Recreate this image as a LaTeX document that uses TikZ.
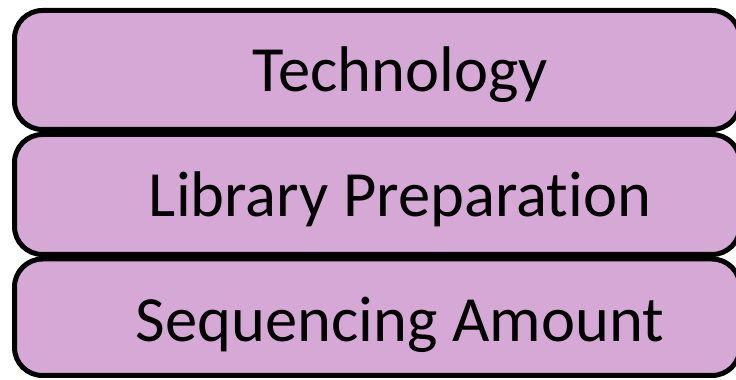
\documentclass[tikz,border=0pt]{standalone}
\usepackage{fontspec}
\setmainfont[Ligatures=NoCommon]{Carlito}
\definecolor{layerfill}{RGB}{214,168,214}
\tikzset{
  layer/.style={draw=black, fill=layerfill, line width=5pt, rounded corners=28pt,
    inner sep=0pt, minimum width=725.5pt, anchor=center},
  layertext/.style={anchor=base, inner sep=0pt, font=\fontsize{64.5}{70}\selectfont}
}
\begin{document}
\begin{tikzpicture}[x=1pt,y=1pt]
  \useasboundingbox (0,0) rectangle (736,380);
  \node[layer, minimum height=119pt]   (tech) at (377.25,310)   {};
  \node[layer, minimum height=120pt]   (lib)  at (377.25,185.5) {};
  \node[layer, minimum height=116.5pt] (seq)  at (377.25,62.75) {};
  \node[layertext] (techlabel) at (400,288) {Technology};
  \node[layertext] (liblabel)  at (400,163) {Library Preparation};
  \node[layertext] (seqlabel)  at (400,38)  {Sequencing Amount};
\end{tikzpicture}
\end{document}
